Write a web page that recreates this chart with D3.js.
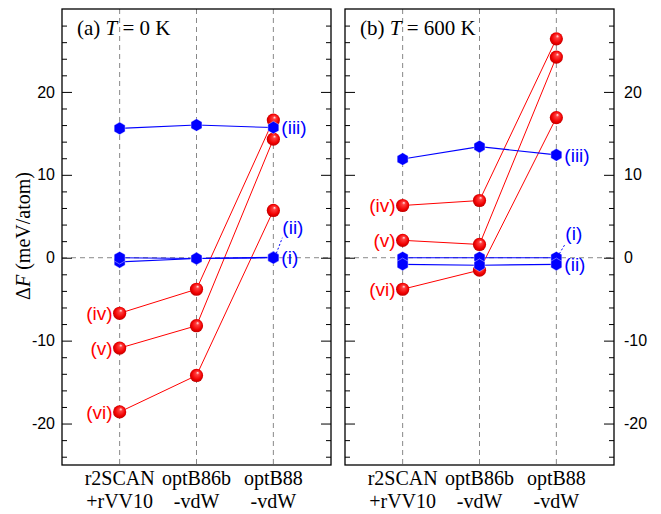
<!DOCTYPE html>
<html>
<head>
<meta charset="utf-8">
<script src="https://cdn.jsdelivr.net/npm/d3@7"></script>
<style>
  body { margin: 0; background: #fff; }
  svg { display: block; }
</style>
</head>
<body>
<svg id="chart"></svg>
<script>

var width = 661;
var height = 514;

// category labels (two lines each)
var catTop = ["r2SCAN", "optB86b", "optB88"];
var catBottom = ["+rVV10", "-vdW", "-vdW"];
var catIndex = [1, 2, 3];

var majorTicks = [-20, -10, 0, 10, 20];
var minorTicks = [-24, -22, -18, -16, -14, -12, -8, -6, -4, -2, 2, 4, 6, 8, 12, 14, 16, 18, 22, 24, 26, 28];

// (a) T = 0 K
var a_i = [0, -0.1, 0];
var a_ii = [-0.5, -0.1, 0.05];
var a_iii = [15.6, 16.0, 15.7];
var a_iv = [-6.7, -3.8, 16.6];
var a_v = [-10.9, -8.2, 14.3];
var a_vi = [-18.6, -14.2, 5.7];

// (b) T = 600 K
var b_i = [0, 0, 0];
var b_ii = [-0.8, -0.9, -0.8];
var b_iii = [11.9, 13.4, 12.4];
var b_iv = [6.3, 6.9, 26.4];
var b_v = [2.1, 1.6, 24.2];
var b_vi = [-3.8, -1.5, 16.9];

var blue = "#0000ff";
var red = "#ff0000";

var svg = d3.select("#chart")
    .attr("width", width)
    .attr("height", height);

var defs = svg.append("defs");
var grad = defs.append("radialGradient")
    .attr("id", "ball")
    .attr("cx", "0.5").attr("cy", "0.5").attr("r", "0.55")
    .attr("fx", "0.6").attr("fy", "0.28");
grad.append("stop").attr("offset", "0%").attr("stop-color", "#fff4f4");
grad.append("stop").attr("offset", "22%").attr("stop-color", "#ff4040");
grad.append("stop").attr("offset", "70%").attr("stop-color", "#f00000");
grad.append("stop").attr("offset", "100%").attr("stop-color", "#b00000");

var plotTop = 9, plotBottom = 465;

var yScale = d3.scaleLinear()
    .domain([-25, 30])
    .range([plotBottom, plotTop]);

function hexPath(r) {
    var pts = [];
    for (var k = 0; k < 6; k++) {
        var a = Math.PI / 2 + k * Math.PI / 3;
        pts.push([r * Math.cos(a), r * Math.sin(a)]);
    }
    return "M" + pts.join("L") + "Z";
}

function drawPanel(opt) {
    var xScale = d3.scaleLinear()
        .domain([0.25, 3.75])
        .range([opt.left, opt.right]);

    var g = svg.append("g");

    // dashed guide lines
    g.selectAll(".vguide")
        .data(catIndex)
        .enter()
        .append("line")
        .attr("x1", function (d) { return xScale(d); })
        .attr("x2", function (d) { return xScale(d); })
        .attr("y1", plotTop)
        .attr("y2", plotBottom)
        .attr("stroke", "#888")
        .attr("stroke-width", 1)
        .attr("stroke-dasharray", "5,4");

    g.append("line")
        .attr("x1", opt.left)
        .attr("x2", opt.right)
        .attr("y1", yScale(0))
        .attr("y2", yScale(0))
        .attr("stroke", "#888")
        .attr("stroke-width", 1)
        .attr("stroke-dasharray", "5,4");

    // axes: ticks inward on both sides
    var leftAxis = d3.axisLeft(yScale).tickValues(majorTicks).tickSize(-10).tickPadding(7)
        .tickFormat(opt.labelsLeft ? function (d) { return String(d); } : "");
    var leftMinor = d3.axisLeft(yScale).tickValues(minorTicks).tickSize(-5).tickFormat("");
    var rightAxis = d3.axisRight(yScale).tickValues(majorTicks).tickSize(-10).tickPadding(10)
        .tickFormat(opt.labelsRight ? function (d) { return String(d); } : "");
    var rightMinor = d3.axisRight(yScale).tickValues(minorTicks).tickSize(-5).tickFormat("");

    [leftAxis, leftMinor].forEach(function (ax) {
        g.append("g").attr("transform", "translate(" + opt.left + ",0)").call(ax)
            .call(function (s) { s.select(".domain").remove(); });
    });
    [rightAxis, rightMinor].forEach(function (ax) {
        g.append("g").attr("transform", "translate(" + opt.right + ",0)").call(ax)
            .call(function (s) { s.select(".domain").remove(); });
    });
    g.selectAll(".tick text")
        .attr("font-family", "'Liberation Sans', Arial, sans-serif")
        .attr("font-size", 16)
        .attr("fill", "#000");

    // frame
    g.append("rect")
        .attr("x", opt.left)
        .attr("y", plotTop)
        .attr("width", opt.right - opt.left)
        .attr("height", plotBottom - plotTop)
        .attr("fill", "none")
        .attr("stroke", "#000")
        .attr("stroke-width", 1.3);

    // category labels
    var cat = g.selectAll(".cat")
        .data(catIndex)
        .enter()
        .append("text")
        .attr("text-anchor", "middle")
        .attr("font-family", "'Liberation Serif', 'Times New Roman', serif")
        .attr("font-size", 20)
        .attr("fill", "#000");
    cat.append("tspan")
        .attr("x", function (d) { return xScale(d); })
        .attr("y", 485)
        .text(function (d, i) { return catTop[i]; });
    cat.append("tspan")
        .attr("x", function (d) { return xScale(d); })
        .attr("y", 508)
        .text(function (d, i) { return catBottom[i]; });

    var line = d3.line()
        .x(function (d, i) { return xScale(catIndex[i]); })
        .y(function (d) { return yScale(d); });

    // red series first, blue drawn on top
    opt.redSeries.forEach(function (s) {
        g.append("path")
            .datum(s.values)
            .attr("d", line)
            .attr("fill", "none")
            .attr("stroke", red)
            .attr("stroke-width", 1);
    });
    opt.blueSeries.forEach(function (s) {
        g.append("path")
            .datum(s.values)
            .attr("d", line)
            .attr("fill", "none")
            .attr("stroke", blue)
            .attr("stroke-width", 1.1);
    });

    opt.redSeries.forEach(function (s) {
        g.selectAll(null)
            .data(s.values)
            .enter()
            .append("circle")
            .attr("cx", function (d, i) { return xScale(catIndex[i]); })
            .attr("cy", function (d) { return yScale(d); })
            .attr("r", 6.6)
            .attr("fill", "url(#ball)");
    });
    opt.blueSeries.forEach(function (s) {
        g.selectAll(null)
            .data(s.values)
            .enter()
            .append("path")
            .attr("transform", function (d, i) {
                return "translate(" + xScale(catIndex[i]) + "," + yScale(d) + ")";
            })
            .attr("d", hexPath(6.3))
            .attr("fill", blue)
            .attr("stroke", "#fff")
            .attr("stroke-width", 0.4);
    });

    // series labels
    var xl = xScale(1) - 7;
    var xr = xScale(3) + 8;
    opt.redSeries.forEach(function (s) {
        g.append("text")
            .attr("x", xl)
            .attr("y", yScale(s.values[0]))
            .attr("dy", "0.35em")
            .attr("text-anchor", "end")
            .attr("font-family", "'Liberation Sans', Arial, sans-serif")
            .attr("font-size", 19)
            .attr("fill", red)
            .text(s.name);
    });
    opt.blueSeries.forEach(function (s) {
        var ly = s.raise ? yScale(0) - s.raise : yScale(s.values[2]);
        var lx = s.raise ? xr + 1 : xr;
        g.append("text")
            .attr("x", lx)
            .attr("y", ly)
            .attr("dy", "0.35em")
            .attr("font-family", "'Liberation Sans', Arial, sans-serif")
            .attr("font-size", 19)
            .attr("fill", blue)
            .text(s.name);
        if (s.raise) {
            g.append("line")
                .attr("x1", xScale(3) + 3)
                .attr("y1", yScale(s.values[2]) - 4)
                .attr("x2", xScale(3) + 9)
                .attr("y2", ly + 10)
                .attr("stroke", blue)
                .attr("stroke-width", 1)
                .attr("stroke-dasharray", "2,2");
        }
    });

    // panel title
    var title = g.append("text")
        .attr("x", opt.left + 15)
        .attr("y", 35)
        .attr("font-family", "'Liberation Serif', 'Times New Roman', serif")
        .attr("font-size", 21)
        .attr("fill", "#000");
    title.append("tspan").text(opt.tag + " ");
    title.append("tspan").attr("font-style", "italic").text("T");
    title.append("tspan").text(" = " + opt.temp + " K");
}

drawPanel({
    left: 62, right: 331, labelsLeft: true, labelsRight: false,
    tag: "(a)", temp: "0",
    redSeries: [
        { name: "(iv)", values: a_iv },
        { name: "(v)", values: a_v },
        { name: "(vi)", values: a_vi }
    ],
    blueSeries: [
        { name: "(ii)", values: a_ii, raise: 30 },
        { name: "(i)", values: a_i },
        { name: "(iii)", values: a_iii }
    ]
});

drawPanel({
    left: 345, right: 614, labelsLeft: false, labelsRight: true,
    tag: "(b)", temp: "600",
    redSeries: [
        { name: "(iv)", values: b_iv },
        { name: "(v)", values: b_v },
        { name: "(vi)", values: b_vi }
    ],
    blueSeries: [
        { name: "(i)", values: b_i, raise: 24 },
        { name: "(ii)", values: b_ii },
        { name: "(iii)", values: b_iii }
    ]
});

// y axis title
var yTitle = svg.append("text")
    .attr("transform", "translate(30,236) rotate(-90)")
    .attr("text-anchor", "middle")
    .attr("font-family", "'Liberation Serif', 'Times New Roman', serif")
    .attr("font-size", 20)
    .attr("fill", "#000");
yTitle.append("tspan").text("Δ");
yTitle.append("tspan").attr("font-style", "italic").text("F");
yTitle.append("tspan").text(" (meV/atom)");

</script>
</body>
</html>
